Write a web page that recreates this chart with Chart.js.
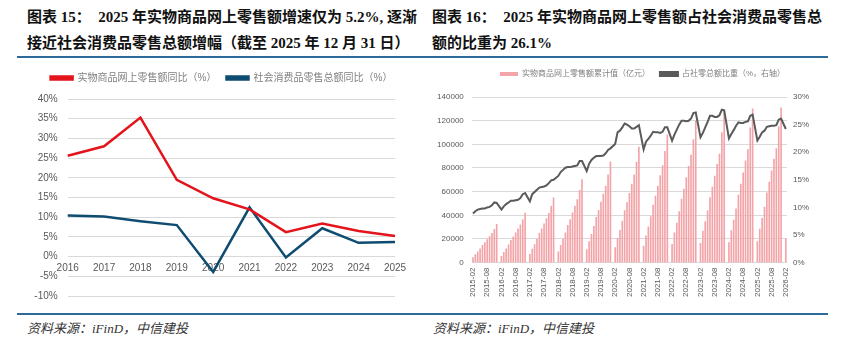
<!DOCTYPE html>
<html>
<head>
<meta charset="utf-8">
<script src="https://cdn.jsdelivr.net/npm/chart.js@4.4.0/dist/chart.umd.min.js"></script>
<style>
body{margin:0;background:#fff;width:853px;height:361px;position:relative;overflow:hidden;font-family:"Liberation Serif","Noto Sans CJK SC",serif;}
.title{position:absolute;top:4px;font-size:15px;font-weight:bold;line-height:26px;color:#111;white-space:nowrap;}
.rule{position:absolute;left:17px;width:811px;height:2px;background:#2b6a99;}
.src{position:absolute;top:320px;font-size:13px;line-height:18px;font-style:italic;color:#333;white-space:nowrap;}
canvas{position:absolute;}
</style>
</head>
<body>
<div class="title" style="left:27px">图表 15：&nbsp;&nbsp;2025 年实物商品网上零售额增速仅为 5.2%, 逐渐<br>接近社会消费品零售总额增幅（截至 2025 年 12 月 31 日）</div>
<div class="title" style="left:432px">图表 16：&nbsp;&nbsp;2025 年实物商品网上零售额占社会消费品零售总<br>额的比重为 26.1%</div>
<div class="rule" style="top:56px"></div>
<div class="rule" style="top:313px"></div>
<div class="src" style="left:27px">资料来源：iFinD，中信建投</div>
<div class="src" style="left:433px">资料来源：iFinD，中信建投</div>
<canvas id="left" width="420" height="252" style="left:0;top:60px"></canvas>
<canvas id="right" width="420" height="252" style="left:420px;top:60px"></canvas>
<script>
// 图表15 数据
const years = ['2016', '2017', '2018', '2019', '2020', '2021', '2022', '2023', '2024', '2025'];
const onlineYoY = [25.6, 28.0, 35.3, 19.5, 14.8, 12.0, 6.2, 8.4, 6.5, 5.2];
const retailYoY = [10.4, 10.2, 9.0, 8.0, -3.9, 12.5, -0.2, 7.2, 3.5, 3.7];

// 图表16 数据 (1月无数据)
const sales2015 = [4200, 6800, 9100, 11700, 14600, 16900, 19500, 22000, 24700, 28200, 32400];
const sales2016 = [null, 5400, 8800, 11700, 15100, 18900, 21800, 25200, 28500, 31900, 36500, 41900];
const sales2017 = [null, 7100, 11500, 15300, 19700, 24700, 28500, 32900, 37300, 41700, 47700, 54800];
const sales2018 = [null, 9100, 14700, 19700, 25300, 31600, 36500, 42100, 47700, 53300, 61100, 70200];
const sales2019 = [null, 11100, 17900, 23900, 30700, 38400, 44300, 51100, 58000, 64800, 74200, 85200];
const sales2020 = [null, 12700, 20500, 27300, 35200, 43900, 50700, 58600, 66400, 74200, 84900, 97600];
const sales2021 = [null, 14000, 22700, 30300, 38900, 48600, 56200, 64800, 73500, 82100, 94000, 108000];
const sales2022 = [null, 15500, 25100, 33500, 43100, 53800, 62200, 71800, 81400, 90900, 104100, 119600];
const sales2023 = [null, 16300, 26700, 34700, 43800, 54900, 63900, 73100, 83000, 91800, 110000, 128500];
const sales2024 = [null, 17000, 27200, 36000, 45400, 57000, 66300, 76000, 86000, 95500, 114000, 130000];
const sales2025 = [null, 17800, 28400, 37500, 47000, 59000, 68000, 77500, 87500, 96500, 115000, 130800];
const sales2026 = [null, 20100];

const share2015 = [8.9, 9.3, 9.6, 9.7, 9.8, 9.8, 10.0, 10.1, 10.4, 10.9, 10.8];
const share2016 = [null, 9.6, 10.2, 10.6, 10.9, 11.2, 11.2, 11.3, 11.4, 11.7, 12.4, 12.6];
const share2017 = [null, 11.1, 12.4, 12.8, 13.2, 13.6, 13.7, 13.8, 14.0, 14.4, 14.9, 15.0];
const share2018 = [null, 15.7, 16.4, 16.8, 17.2, 17.3, 17.3, 17.4, 17.5, 17.6, 18.4, 18.4];
const share2019 = [null, 16.6, 17.9, 18.6, 19.0, 19.3, 19.3, 19.3, 19.4, 19.8, 20.4, 20.7];
const share2020 = [null, 21.5, 23.6, 23.9, 24.5, 25.2, 25.0, 24.7, 24.3, 24.3, 24.6, 24.9];
const share2021 = [null, 20.5, 21.9, 22.4, 23.0, 23.7, 23.6, 23.6, 23.5, 23.7, 24.5, 24.5];
const share2022 = [null, 22.1, 23.2, 24.1, 25.0, 25.7, 25.7, 25.6, 25.7, 26.1, 27.1, 27.2];
const share2023 = [null, 22.7, 23.5, 24.5, 25.5, 26.6, 26.6, 26.4, 26.4, 26.7, 27.7, 27.6];
const share2024 = [null, 22.5, 23.3, 24.0, 24.8, 25.4, 25.3, 25.3, 25.5, 25.6, 26.6, 26.8];
const share2025 = [null, 22.1, 22.8, 23.6, 23.9, 24.6, 24.7, 24.8, 24.8, 24.9, 25.9, 26.1];
const share2026 = [null, 24.2];

const monthYears = ['2015', '2016', '2017', '2018', '2019', '2020', '2021', '2022', '2023', '2024', '2025', '2026'];
const monthNums = ['01', '02', '03', '04', '05', '06', '07', '08', '09', '10', '11', '12'];

let months = [];
monthYears.forEach(y => {
    monthNums.forEach(m => {
        if (y === '2015' && m === '01') return;
        if (y === '2026' && m > '02') return;
        months.push(y + '-' + m);
    });
});
const salesData = [].concat(sales2015, sales2016, sales2017, sales2018, sales2019, sales2020,
    sales2021, sales2022, sales2023, sales2024, sales2025, sales2026);
const shareData = [].concat(share2015, share2016, share2017, share2018, share2019, share2020,
    share2021, share2022, share2023, share2024, share2025, share2026);

const fontFam = '"Liberation Sans", "Noto Sans CJK SC", sans-serif';
Chart.defaults.font.family = fontFam;
Chart.defaults.color = '#595959';
Chart.defaults.animation = false;

const gridColor = '#d9d9d9';

// legend: extra space under it, and a horizontal shift
const legendTweak = {
    id: 'legendTweak',
    beforeLayout(chart, args, opts) {
        const lg = chart.legend;
        if (lg && !lg._tweaked) {
            const fit = lg.fit.bind(lg);
            lg.fit = function () { fit(); this.height += opts.extra; };
            lg._tweaked = true;
        }
    },
    afterLayout(chart, args, opts) {
        chart.legend.left += opts.dx;
        chart.legend.right += opts.dx;
    }
};

new Chart(document.getElementById('left'), {
    type: 'line',
    data: {
        labels: years,
        datasets: [
            {
                label: '实物商品网上零售额同比（%）',
                data: onlineYoY,
                borderColor: '#e3141b',
                backgroundColor: '#e3141b',
                borderWidth: 2.5,
                pointRadius: 0,
                tension: 0
            },
            {
                label: '社会消费品零售总额同比（%）',
                data: retailYoY,
                borderColor: '#0f4c72',
                backgroundColor: '#0f4c72',
                borderWidth: 2.5,
                pointRadius: 0,
                tension: 0
            }
        ]
    },
    plugins: [legendTweak],
    options: {
        responsive: false,
        devicePixelRatio: 1,
        layout: {padding: {left: 0, right: 25, top: 3, bottom: 15}},
        plugins: {
            legendTweak: {extra: 6, dx: 24},
            legend: {
                labels: {font: {size: 10}, boxWidth: 22, boxHeight: 3, padding: 10, color: '#7f7f7f'}
            },
            tooltip: {enabled: false}
        },
        scales: {
            x: {
                position: {y: 0},
                grid: {display: false, drawTicks: false},
                border: {display: false},
                ticks: {font: {size: 10}, padding: 6, maxRotation: 0}
            },
            y: {
                min: -10,
                max: 40,
                afterFit: s => { s.width = 67.7; },
                grid: {color: gridColor, drawTicks: false},
                border: {display: false},
                ticks: {stepSize: 5, font: {size: 10}, padding: 10, callback: v => v + '%'}
            }
        }
    }
});

new Chart(document.getElementById('right'), {
    type: 'bar',
    data: {
        labels: months,
        datasets: [
            {
                type: 'line',
                label: '占社零总额比重（%，右轴）',
                data: shareData,
                yAxisID: 'y1',
                borderColor: '#5a5a5a',
                backgroundColor: '#5a5a5a',
                borderWidth: 2,
                pointRadius: 0,
                spanGaps: true,
                tension: 0
            },
            {
                label: '实物商品网上零售额累计值（亿元）',
                data: salesData,
                yAxisID: 'y',
                backgroundColor: '#f3a4a8',
                borderWidth: 0,
                barThickness: 1
            }
        ]
    },
    plugins: [legendTweak],
    options: {
        responsive: false,
        devicePixelRatio: 1,
        layout: {padding: {left: 0, right: 0, top: 0, bottom: 10}},
        plugins: {
            legendTweak: {extra: 9, dx: 12.5},
            legend: {
                reverse: true,
                labels: {font: {size: 8}, boxWidth: 18, boxHeight: 4, padding: 10, color: '#7f7f7f'}
            },
            tooltip: {enabled: false}
        },
        scales: {
            x: {
                grid: {display: false, drawTicks: false},
                border: {display: false},
                ticks: {
                    font: {size: 8},
                    autoSkip: false,
                    maxRotation: 90,
                    minRotation: 90,
                    padding: 5,
                    callback: function (v, i) { return i % 6 === 0 ? months[i] : ''; }
                }
            },
            y: {
                min: 0,
                max: 140000,
                afterFit: s => { s.width = 51.8; },
                grid: {color: gridColor, drawTicks: false},
                border: {display: false},
                ticks: {stepSize: 20000, font: {size: 8}, padding: 8, callback: v => String(v)}
            },
            y1: {
                position: 'right',
                min: 0,
                max: 30,
                afterFit: s => { s.width = 53; },
                grid: {display: false, drawTicks: false},
                border: {display: false},
                ticks: {stepSize: 5, font: {size: 8}, padding: 6, callback: v => v + '%'}
            }
        }
    }
});
</script>
</body>
</html>
